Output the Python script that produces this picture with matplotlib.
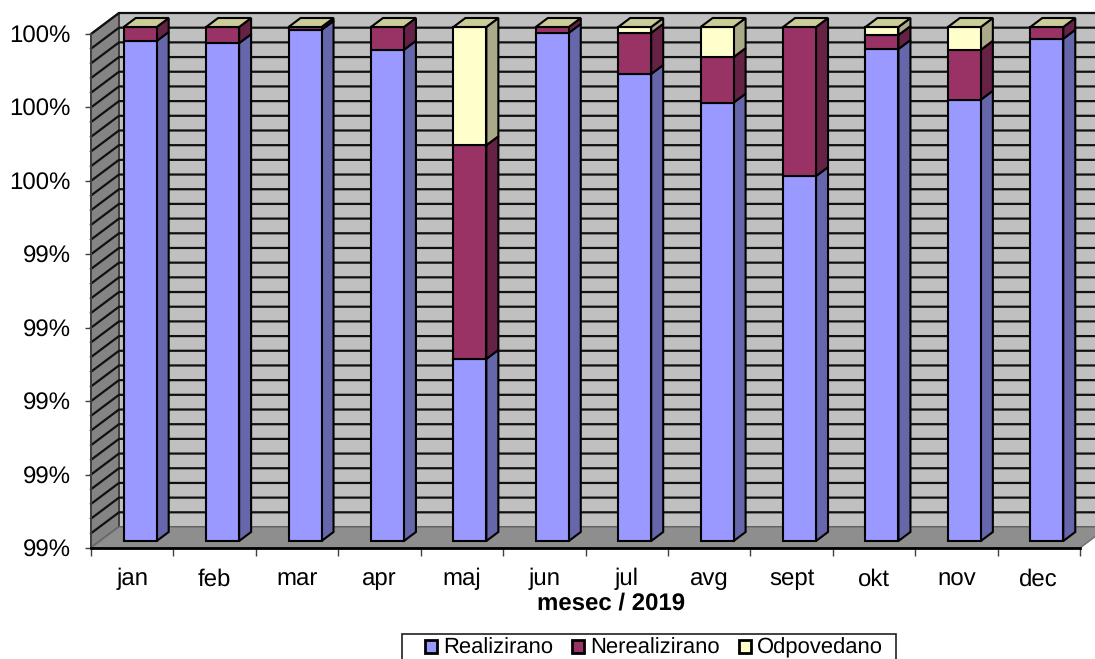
import matplotlib
matplotlib.use("Agg")
import matplotlib.pyplot as plt
import numpy as np
from matplotlib.patches import Polygon, Rectangle, Patch
from matplotlib.transforms import IdentityTransform

plt.rcParams['font.family'] = ['Liberation Sans', 'DejaVu Sans']
plt.rcParams['text.hinting'] = 'none'
plt.rcParams['text.hinting_factor'] = 1

months = ['jan', 'feb', 'mar', 'apr', 'maj', 'jun', 'jul', 'avg', 'sept', 'okt', 'nov', 'dec']
realizirano = [99.981, 99.978, 99.996, 99.969, 99.548, 99.992, 99.936, 99.897, 99.797, 99.970, 99.901, 99.984]
nerealizirano = [0.019, 0.022, 0.004, 0.031, 0.291, 0.008, 0.056, 0.062, 0.203, 0.019, 0.068, 0.016]
odpovedano = [0.0, 0.0, 0.0, 0.0, 0.161, 0.0, 0.008, 0.041, 0.0, 0.011, 0.031, 0.0]
y_ticks = [99.3, 99.4, 99.5, 99.6, 99.7, 99.8, 99.9, 100.0]
y_labels = ['99%', '99%', '99%', '99%', '99%', '100%', '100%', '100%']
series_names = ['Realizirano', 'Nerealizirano', 'Odpovedano']

front_cols = ['#9999FF', '#993366', '#FFFFCC']
side_cols = ['#6666AA', '#662244', '#AAAA88']
top_col = '#CCCC99'
EDGE = '#000000'
W, H = 1095, 659
FS = 17
LEG_FS = 15.5

fig = plt.figure(figsize=(W / 100, H / 100), dpi=100, facecolor='white')
ax = fig.add_axes([91 / W, (H - 548) / H, 989 / W, 514 / H])
ax.set_xlim(0, 12)
ax.set_ylim(99.3, 100.0)
ax.patch.set_visible(False)


def px(x, y, dx=0, dy=0):
    p = ax.transData.transform((x, y))
    return (p[0] + dx, p[1] + dy)


def poly(points, fc, ec=EDGE, lw=1.5, z=2):
    ax.add_patch(Polygon(points, closed=True, facecolor=fc, edgecolor=ec, linewidth=lw,
                         transform=IdentityTransform(), clip_on=False, zorder=z, joinstyle='miter'))


WALL_DX, WALL_DY = 28, 21
ymin, ymax = ax.get_ylim()
# side wall, back wall, floor
poly([px(0, ymin), px(0, ymin, WALL_DX, WALL_DY), px(0, ymax, WALL_DX, WALL_DY), px(0, ymax)],
     '#848484', ec='#404040', lw=1.4, z=1)
poly([px(0, ymin, WALL_DX, WALL_DY), px(12, ymin, WALL_DX, WALL_DY), px(12, ymax, WALL_DX, WALL_DY),
      px(0, ymax, WALL_DX, WALL_DY)], '#C0C0C0', ec='#404040', lw=1.4, z=1)
poly([px(0, ymin), px(12, ymin), px(12, ymin, WALL_DX, WALL_DY), px(0, ymin, WALL_DX, WALL_DY)],
     '#8E8E8E', ec='#707070', lw=1.0, z=1)

# gridlines on both walls
for g in np.arange(0, 36)[1:]:
    yv = ymin + g * 0.02
    a, b, c = px(0, yv), px(0, yv, WALL_DX, WALL_DY), px(12, yv, WALL_DX, WALL_DY)
    ax.add_line(plt.Line2D([a[0], b[0], c[0]], [a[1], b[1], c[1]], color='#111111', lw=1.6,
                           transform=IdentityTransform(), clip_on=False, zorder=1.5))

# stacked 3D bars
BAR_W = 0.4
DX0, DY0 = 8, 7
DX1, DY1 = 20, 16
series = [realizirano, nerealizirano, odpovedano]
for i in range(len(months)):
    cx = i + 0.5
    l, r = cx - BAR_W / 2, cx + BAR_W / 2
    z = 3 + i * 0.01
    bottom, top = ymin, ymin
    for s, vals in enumerate(series):
        top = vals[i] if s == 0 else bottom + vals[i]
        if top > bottom:
            poly([px(r, bottom, DX0, DY0), px(r, bottom, DX1, DY1), px(r, top, DX1, DY1), px(r, top, DX0, DY0)],
                 side_cols[s], z=z)
            poly([px(l, bottom, DX0, DY0), px(r, bottom, DX0, DY0), px(r, top, DX0, DY0), px(l, top, DX0, DY0)],
                 front_cols[s], z=z + 0.001)
        bottom = top
    poly([px(l, top, DX0, DY0), px(r, top, DX0, DY0), px(r, top, DX1, DY1), px(l, top, DX1, DY1)],
         top_col, z=z + 0.002)

# axes
for name in ('top', 'right'):
    ax.spines[name].set_visible(False)
ax.spines['left'].set_color('#404040')
ax.spines['left'].set_linewidth(1.4)
ax.spines['bottom'].set_color('#000000')
ax.spines['bottom'].set_linewidth(2.0)
ax.spines['left'].set_zorder(1.8)
ax.spines['bottom'].set_zorder(1.8)

ax.set_yticks(y_ticks)
ax.set_yticklabels(y_labels, fontsize=FS, color='#000000')
ax.tick_params(axis='y', length=4.5, width=1.0, color='#404040', pad=10)
ax.set_xticks(np.arange(0, 13))
ax.set_xticklabels([])
ax.set_xticks(np.arange(12) + 0.5, labels=months, minor=True)
ax.tick_params(axis='x', which='major', length=5.5, width=1.0, color='#404040')
ax.tick_params(axis='x', which='minor', length=0, pad=27, labelsize=FS)
for t in ax.get_xticklabels(minor=True):
    t.set_verticalalignment('baseline')

ax.set_xlabel('mesec / 2019', fontsize=FS, fontweight='bold', va='center')
ax.xaxis.set_label_coords((611.5 - 91) / 989, -(603 - 548) / 514)

# legend box (runs off the lower edge of the figure)
fig.add_artist(Rectangle((402 / W, -20 / H), 494 / W, (H - 634 + 20) / H, facecolor='white',
                         edgecolor='#202020', linewidth=1.2, transform=fig.transFigure))
handles = [Patch(facecolor=c, edgecolor='black', linewidth=2.0, label=n)
           for c, n in zip(front_cols, series_names)]
fig.legend(handles=handles, loc='center left', bbox_to_anchor=(425 / W, (H - 648) / H), ncol=3,
           frameon=False, fontsize=LEG_FS, handlelength=0.55, handleheight=0.55, handletextpad=0.3,
           columnspacing=0.87, borderaxespad=0, borderpad=0)

fig.savefig('out.png', dpi=100, facecolor='white')
